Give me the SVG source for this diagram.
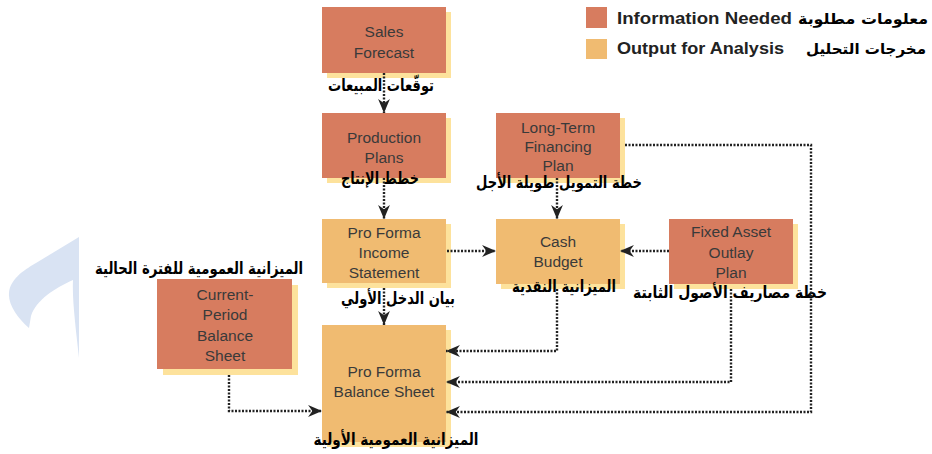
<svg xmlns="http://www.w3.org/2000/svg" width="932" height="454" viewBox="0 0 932 454">
<style>
.info{fill:#D77C5F}
.out{fill:#F0BB71}
.sh{fill:#FDE29C}
.bt{font-family:"Liberation Sans",Arial,sans-serif;font-size:15.5px;fill:#3a3a3a;text-anchor:middle}
.ar{font-family:"DejaVu Sans",sans-serif;font-weight:bold;font-size:16.5px;fill:#000;text-anchor:middle}
.al{font-family:"DejaVu Sans",sans-serif;font-weight:bold;font-size:15px;fill:#000;text-anchor:middle}
.lg{font-family:"Liberation Sans",Arial,sans-serif;font-weight:bold;font-size:16px;fill:#222}
.c{fill:none;stroke:#222;stroke-width:2.4;stroke-dasharray:2 1.5}
</style>
<defs>
<marker id="ah" markerUnits="userSpaceOnUse" markerWidth="15" markerHeight="12" refX="13" refY="5.5" orient="auto" viewBox="0 0 14 11">
<path d="M0,0 L13,5.5 L0,11 L4,5.5 Z" fill="#222"/>
</marker>
</defs>
<rect width="932" height="454" fill="#fff"/>
<path d="M79,237 L79,358 C76,330 72,300 73,280 C55,288 36,300 31,316 L29,328 C18,318 8,305 9,293 C10,280 22,271 36,263 Z" fill="#D9E3F3"/>

<g id="legend">
<rect x="586" y="7" width="21" height="21" class="info"/>
<rect x="586" y="39" width="21" height="20" class="out"/>
<text x="617" y="24" class="lg" textLength="175" lengthAdjust="spacingAndGlyphs">Information Needed</text>
<text x="617" y="54" class="lg" textLength="167" lengthAdjust="spacingAndGlyphs">Output for Analysis</text>
<text x="863" y="24" class="al" textLength="130" lengthAdjust="spacingAndGlyphs">معلومات مطلوبة</text>
<text x="866" y="54" class="al" textLength="120" lengthAdjust="spacingAndGlyphs">مخرجات التحليل</text>
</g>

<g id="sales">
<rect x="327" y="12" width="124" height="66" class="sh"/>
<rect x="322" y="7" width="124" height="66" class="info"/>
<text x="384" y="37" class="bt">Sales</text>
<text x="384" y="58" class="bt">Forecast</text>
<text x="381" y="91" class="ar" textLength="106" lengthAdjust="spacingAndGlyphs">توقّعات المبيعات</text>
</g>

<g id="production">
<rect x="327" y="118" width="124" height="65" class="sh"/>
<rect x="322" y="113" width="124" height="65" class="info"/>
<text x="384" y="143" class="bt">Production</text>
<text x="384" y="163" class="bt">Plans</text>
<text x="380" y="184" class="ar" textLength="78" lengthAdjust="spacingAndGlyphs">خطط الإنتاج</text>
</g>

<g id="longterm">
<rect x="501" y="118" width="124" height="65" class="sh"/>
<rect x="496" y="113" width="124" height="65" class="info"/>
<text x="558" y="133" class="bt">Long-Term</text>
<text x="558" y="152" class="bt">Financing</text>
<text x="558" y="171" class="bt">Plan</text>
<text x="559" y="188" class="ar" textLength="166" lengthAdjust="spacingAndGlyphs">خطة التمويل طويلة الأجل</text>
</g>

<g id="income">
<rect x="327" y="224" width="124" height="64" class="sh"/>
<rect x="322" y="219" width="124" height="64" class="out"/>
<text x="384" y="238" class="bt">Pro Forma</text>
<text x="384" y="258" class="bt">Income</text>
<text x="384" y="278" class="bt">Statement</text>
<text x="398" y="304" class="ar" textLength="114" lengthAdjust="spacingAndGlyphs">بيان الدخل الأولي</text>
</g>

<g id="cash">
<rect x="501" y="224" width="124" height="65" class="sh"/>
<rect x="496" y="219" width="124" height="65" class="out"/>
<text x="558" y="247" class="bt">Cash</text>
<text x="558" y="267" class="bt">Budget</text>
<text x="564" y="292" class="ar" textLength="104" lengthAdjust="spacingAndGlyphs">الميزانية النقدية</text>
</g>

<g id="fixed">
<rect x="674" y="224" width="124" height="65" class="sh"/>
<rect x="669" y="219" width="124" height="65" class="info"/>
<text x="731" y="237" class="bt">Fixed Asset</text>
<text x="731" y="258" class="bt">Outlay</text>
<text x="731" y="278" class="bt">Plan</text>
<text x="730" y="298" class="ar" textLength="194" lengthAdjust="spacingAndGlyphs">خطة مصاريف الأصول الثابتة</text>
</g>

<g id="current">
<rect x="163" y="285" width="135" height="90" class="sh"/>
<rect x="157" y="279" width="135" height="90" class="info"/>
<text x="225" y="300" class="bt">Current-</text>
<text x="225" y="320" class="bt">Period</text>
<text x="225" y="341" class="bt">Balance</text>
<text x="225" y="361" class="bt">Sheet</text>
<text x="199" y="274" class="ar" textLength="208" lengthAdjust="spacingAndGlyphs">الميزانية العمومية للفترة الحالية</text>
</g>

<g id="pfbs">
<rect x="327" y="330" width="124" height="117" class="sh"/>
<rect x="322" y="325" width="124" height="117" class="out"/>
<text x="384" y="377" class="bt">Pro Forma</text>
<text x="384" y="397" class="bt">Balance Sheet</text>
<text x="396" y="445" class="ar" textLength="165" lengthAdjust="spacingAndGlyphs">الميزانية العمومية الأولية</text>
</g>

<g id="connectors">
<path class="c" d="M384,73 L384,113" marker-end="url(#ah)"/>
<path class="c" d="M384,178 L384,219" marker-end="url(#ah)"/>
<path class="c" d="M557,178 L557,219" marker-end="url(#ah)"/>
<path class="c" d="M447,251 L496,251" marker-end="url(#ah)"/>
<path class="c" d="M669,251 L620,251" marker-end="url(#ah)"/>
<path class="c" d="M384,288 L384,325" marker-end="url(#ah)"/>
<path class="c" d="M557,289 L557,351 L446,351" marker-end="url(#ah)"/>
<path class="c" d="M731,289 L731,382 L446,382" marker-end="url(#ah)"/>
<path class="c" d="M625,145 L811,145 L811,412 L446,412" marker-end="url(#ah)"/>
<path class="c" d="M229,375 L229,411 L322,411" marker-end="url(#ah)"/>
</g>
</svg>
